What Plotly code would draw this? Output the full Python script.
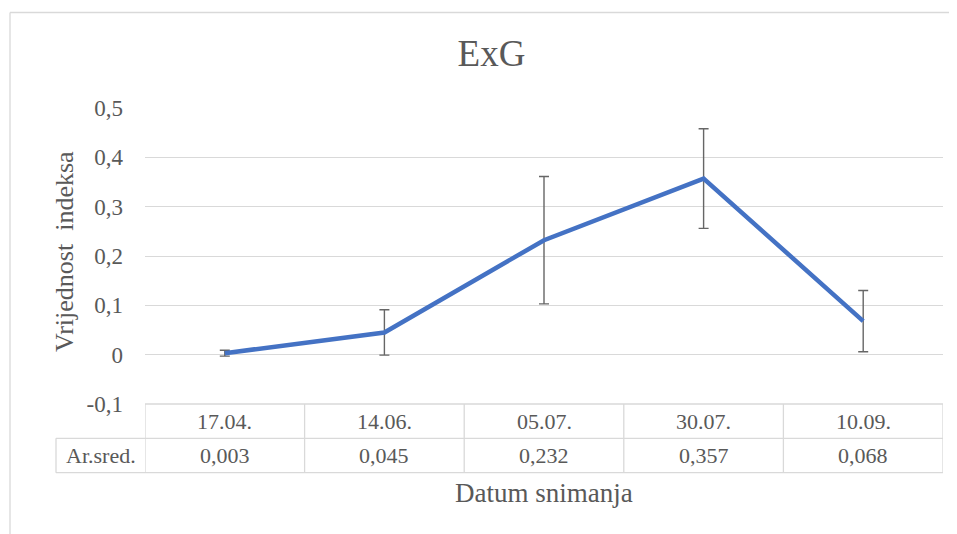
import plotly.graph_objects as go

# ---- data ----
dates = ["17.04.", "14.06.", "05.07.", "30.07.", "10.09."]
means = [0.003, 0.045, 0.232, 0.357, 0.068]
errors = [0.006, 0.046, 0.129, 0.101, 0.062]
y_ticks = [-0.1, 0.0, 0.1, 0.2, 0.3, 0.4, 0.5]
y_tick_labels = ["-0,1", "0", "0,1", "0,2", "0,3", "0,4", "0,5"]
row_label = "Ar.sred."
title_text = "ExG"
y_title = "Vrijednost  indeksa"
x_title = "Datum snimanja"

# ---- layout geometry ----
# The page body has an 8px margin, so the figure is offset by 8px.
OFF = 8
W, H = 957 - OFF, 534 - OFF
# plot area in reference-screen px
PL, PR, PT, PB = 145, 943, 108, 404
L, R, T, B = PL - OFF, W - (PR - OFF), PT - OFF, H - (PB - OFF)
pw, ph = W - L - R, H - T - B

def px_x(p):
    # reference screen px -> paper x
    return (p - OFF - L) / pw

def px_y(p):
    # reference screen px -> paper y
    return (H - B - (p - OFF)) / ph

FONT = "Liberation Serif, Times New Roman, serif"
TXT = "#595959"
GRID = "#d9d9d9"

xs = list(range(len(dates)))

fig = go.Figure()
fig.add_trace(go.Scatter(
    x=xs, y=means, mode="lines",
    line=dict(color="#4472C4", width=4.5),
    error_y=dict(type="data", array=errors, visible=True,
                 color="#666666", thickness=1.4, width=5),
    hoverinfo="skip", showlegend=False,
))

shapes = []
annotations = []

# chart-area border (top and left edges visible in the frame)
border = dict(color=GRID, width=1.3)
shapes.append(dict(type="line", xref="paper", yref="paper",
                   x0=px_x(10), x1=px_x(957), y0=px_y(12.5), y1=px_y(12.5),
                   line=border, layer="below"))
shapes.append(dict(type="line", xref="paper", yref="paper",
                   x0=px_x(10), x1=px_x(10), y0=px_y(12.5), y1=px_y(534),
                   line=border, layer="below"))

# data table
y_top, y_mid, y_bot = px_y(404), px_y(438.3), px_y(472.7)
x_lab = px_x(56)
n = len(dates)
line_style = dict(color=GRID, width=1.3)
shapes.append(dict(type="line", xref="x", yref="paper", x0=-0.5, x1=n - 0.5,
                   y0=y_top, y1=y_top, line=line_style))
for yy in (y_mid, y_bot):
    shapes.append(dict(type="line", xref="paper", yref="paper", x0=x_lab, x1=1,
                       y0=yy, y1=yy, line=line_style))
for i in range(n + 1):
    shapes.append(dict(type="line", xref="x", yref="paper", x0=i - 0.5, x1=i - 0.5,
                       y0=y_bot, y1=y_top, line=line_style))
shapes.append(dict(type="line", xref="paper", yref="paper", x0=x_lab, x1=x_lab,
                   y0=y_bot, y1=y_mid, line=line_style))

yc1 = (y_top + y_mid) / 2
yc2 = (y_mid + y_bot) / 2
cell_font = dict(family=FONT, size=22, color=TXT)
for i, (d, m) in enumerate(zip(dates, means)):
    annotations.append(dict(x=i, y=yc1, xref="x", yref="paper", text=d,
                            xanchor="center", yanchor="middle",
                            showarrow=False, font=cell_font))
    annotations.append(dict(x=i, y=yc2, xref="x", yref="paper",
                            text=f"{m:.3f}".replace(".", ","),
                            xanchor="center", yanchor="middle",
                            showarrow=False, font=cell_font))
annotations.append(dict(x=x_lab / 2, y=yc2, xref="paper", yref="paper",
                        text=row_label, showarrow=False,
                        xanchor="center", yanchor="middle", font=cell_font))

# axis titles
annotations.append(dict(x=0.5, y=px_y(493), xref="paper", yref="paper",
                        text=x_title, showarrow=False,
                        xanchor="center", yanchor="middle",
                        font=dict(family=FONT, size=27, color=TXT)))
annotations.append(dict(x=px_x(64), y=px_y(252), xref="paper", yref="paper",
                        text=y_title, showarrow=False, textangle=-90,
                        xanchor="center", yanchor="middle",
                        font=dict(family=FONT, size=26, color=TXT)))

fig.update_layout(
    width=W, height=H,
    margin=dict(l=L, r=R, t=T, b=B, autoexpand=False),
    paper_bgcolor="white", plot_bgcolor="white",
    title=dict(text=title_text, x=(491.5 - OFF) / W, xref="container", xanchor="center",
               y=(H - (53 - OFF)) / H, yref="container", yanchor="middle",
               font=dict(family=FONT, size=37, color=TXT)),
    xaxis=dict(range=[-0.5, n - 0.5], showticklabels=False, showgrid=False,
               zeroline=False, showline=False, fixedrange=True),
    yaxis=dict(range=[-0.1, 0.5], tickvals=y_ticks, ticktext=y_tick_labels,
               showgrid=True, gridcolor=GRID, gridwidth=1.3, zeroline=False,
               showline=False, ticks="", ticklabelstandoff=21,
               tickfont=dict(family=FONT, size=23, color=TXT), fixedrange=True),
    shapes=shapes, annotations=annotations,
    showlegend=False,
)

fig.write_html("out.html")
